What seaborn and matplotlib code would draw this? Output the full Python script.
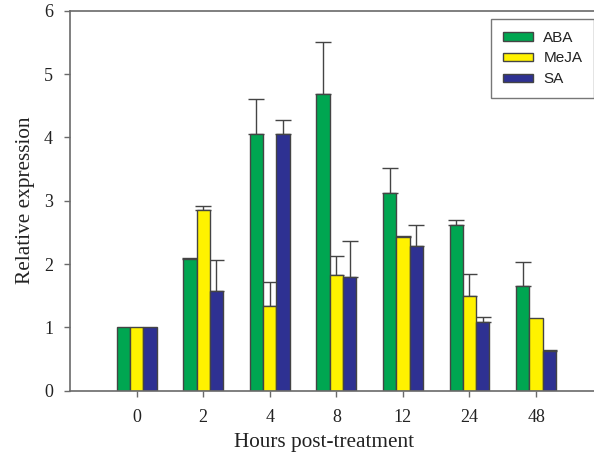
import matplotlib
matplotlib.use("Agg")
import matplotlib.pyplot as plt
import seaborn as sns
import pandas as pd
import numpy as np

hours = ["0", "2", "4", "8", "12", "24", "48"]
treatments = ["ABA", "MeJA", "SA"]
aba = [1.0, 2.08, 4.05, 4.68, 3.12, 2.62, 1.66]
meja = [1.0, 2.86, 1.34, 1.83, 2.42, 1.50, 1.15]
sa = [1.0, 1.58, 4.06, 1.79, 2.28, 1.09, 0.62]
aba_err = [0.0, 0.01, 0.56, 0.83, 0.40, 0.07, 0.38]
meja_err = [0.0, 0.06, 0.37, 0.29, 0.02, 0.35, 0.0]
sa_err = [0.0, 0.49, 0.21, 0.58, 0.33, 0.07, 0.03]
colors = ["#00A651", "#FFF200", "#2E3192"]

sns.set_style("ticks")
plt.rcParams["font.family"] = ["Liberation Serif", "DejaVu Serif"]

df = pd.DataFrame({
    "hour": hours * 3,
    "treatment": [t for t in treatments for _ in hours],
    "value": aba + meja + sa,
})
errs = [aba_err, meja_err, sa_err]

fig = plt.figure(figsize=(5.94, 4.55), dpi=100)
ax = fig.add_axes([70 / 594, (455 - 390.7) / 455, 524 / 594, 380 / 455])

sns.barplot(data=df, x="hour", y="value", hue="treatment", order=hours,
            hue_order=treatments, palette=colors, width=0.6, errorbar=None,
            edgecolor="#444444", linewidth=1.0, saturation=1, ax=ax,
            legend=True)

for cont, err in zip(ax.containers, errs):
    xs, hs, es = [], [], []
    for p, e in zip(cont.patches, err):
        p.set_zorder(2)
        if e > 0:
            xs.append(p.get_x() + p.get_width() / 2)
            hs.append(p.get_height())
            es.append(e)
    ax.errorbar(xs, hs, yerr=[np.zeros(len(es)), es], fmt="none",
                ecolor="#444444", elinewidth=1.0, capsize=5.5, capthick=1.0,
                zorder=1)

ax.set_xlim(-1, 6.87)
ax.set_ylim(0, 6)
ax.set_yticks(range(0, 7))
ax.set_yticklabels([str(i) for i in range(0, 7)])

for s in ["left", "bottom", "top"]:
    ax.spines[s].set_color("#6a6a6a")
    ax.spines[s].set_linewidth(1.2)
ax.spines["right"].set_visible(False)
ax.tick_params(axis="both", colors="#6a6a6a", labelcolor="#222222",
               labelsize=13, direction="out", length=4.2, width=1.0)
ax.tick_params(axis="x", pad=8.8)
ax.tick_params(axis="y", pad=8)

ax.set_xlabel("Hours post-treatment", fontsize=15.3, color="#222222")
ax.set_ylabel("Relative expression", fontsize=15.3, color="#222222")
ax.xaxis.set_label_coords((324 - 70) / 524, -0.111)
ax.yaxis.set_label_coords(-0.067, 0.5)

leg = ax.legend(loc="upper right", bbox_to_anchor=(1.0, 1 - 19 / 455),
                bbox_transform=fig.transFigure, borderaxespad=0,
                frameon=True, fancybox=False, edgecolor="#555555",
                prop={"family": "Liberation Sans", "size": 11},
                handlelength=2.0, handleheight=0.5, handletextpad=0.65,
                labelspacing=0.45, borderpad=0.76, title=None)
leg.get_frame().set_linewidth(1.0)
for t in leg.get_texts():
    t.set_color("#222222")

fig.savefig("out.png", dpi=100)
